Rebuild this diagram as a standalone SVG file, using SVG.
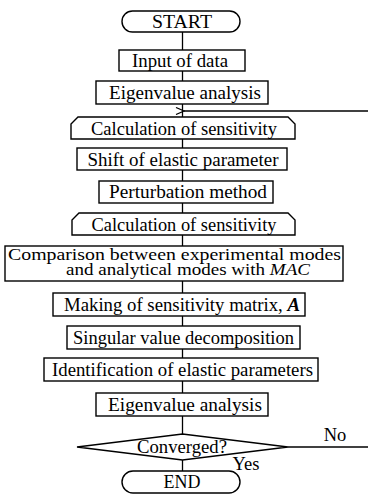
<svg xmlns="http://www.w3.org/2000/svg" width="368" height="495" viewBox="0 0 368 495">
<defs>
<marker id="ah" markerWidth="10" markerHeight="8" refX="1" refY="4" orient="auto" markerUnits="userSpaceOnUse">
<path d="M9,0.5 L1,4 L9,7.5" fill="none" stroke="#000" stroke-width="1.2"/>
</marker>
</defs>
<style>
.b{fill:#fff;stroke:#000;stroke-width:1.4}
.t{font-family:"Liberation Serif","Times New Roman",serif;font-size:18.5px;fill:#000;text-anchor:middle}
.s{font-size:17px}
.c{stroke:#000;stroke-width:1.3;fill:none}
</style>
<rect width="368" height="495" fill="#fff"/>
<g id="connectors">
<line class="c" x1="182.5" y1="32" x2="182.5" y2="50"/>
<line class="c" x1="182.5" y1="71" x2="182.5" y2="81"/>
<line class="c" x1="182.5" y1="104" x2="182.5" y2="117"/>
<line class="c" x1="368" y1="111" x2="184" y2="111" marker-end="url(#ah)"/>
<line class="c" x1="182.5" y1="139" x2="182.5" y2="148"/>
<line class="c" x1="182.5" y1="170" x2="182.5" y2="181"/>
<line class="c" x1="182.5" y1="203" x2="182.5" y2="213"/>
<line class="c" x1="182.5" y1="235" x2="182.5" y2="246"/>
<line class="c" x1="182.5" y1="281" x2="182.5" y2="293"/>
<line class="c" x1="182.5" y1="316" x2="182.5" y2="326"/>
<line class="c" x1="182.5" y1="349" x2="182.5" y2="358"/>
<line class="c" x1="182.5" y1="381" x2="182.5" y2="393"/>
<line class="c" x1="182.5" y1="416" x2="182.5" y2="434"/>
<line class="c" x1="182.5" y1="460" x2="182.5" y2="471"/>
<line class="c" x1="288" y1="447" x2="368" y2="447"/>
<text class="t" x="335" y="441">No</text>
<text class="t" x="246" y="470">Yes</text>
</g>
<g id="start">
<rect class="b" x="122" y="11" width="118" height="21" rx="10.5"/>
<text class="t" x="182" y="28" textLength="60" lengthAdjust="spacingAndGlyphs">START</text>
</g>
<g id="input">
<rect class="b" x="119" y="50" width="126" height="21"/>
<text class="t" x="180" y="67" textLength="96" lengthAdjust="spacingAndGlyphs">Input of data</text>
</g>
<g id="eigen1">
<rect class="b" x="96" y="81" width="172" height="23"/>
<text class="t" x="185" y="99" textLength="152" lengthAdjust="spacingAndGlyphs">Eigenvalue analysis</text>
</g>
<g id="calc1">
<path class="b" d="M71,139 L71,124 L78,117 L288,117 L295,124 L295,139 Z"/>
<text class="t" x="184" y="135" textLength="186" lengthAdjust="spacingAndGlyphs">Calculation of sensitivity</text>
</g>
<g id="shift">
<rect class="b" x="77" y="148" width="210" height="22"/>
<text class="t" x="183" y="166" textLength="191" lengthAdjust="spacingAndGlyphs">Shift of elastic parameter</text>
</g>
<g id="perturb">
<rect class="b" x="99" y="181" width="174" height="22"/>
<text class="t" x="188" y="198" textLength="158" lengthAdjust="spacingAndGlyphs">Perturbation method</text>
</g>
<g id="calc2">
<path class="b" d="M72,235 L72,220 L79,213 L288,213 L295,220 L295,235 Z"/>
<text class="t" x="184" y="231" textLength="185" lengthAdjust="spacingAndGlyphs">Calculation of sensitivity</text>
</g>
<g id="compare">
<rect class="b" x="5" y="246" width="338" height="35"/>
<text class="t s" x="174.5" y="259.5" textLength="333" lengthAdjust="spacingAndGlyphs">Comparison between experimental modes</text>
<text class="t s" x="188" y="274.5" textLength="244" lengthAdjust="spacingAndGlyphs">and analytical modes with <tspan font-style="italic">MAC</tspan></text>
</g>
<g id="making">
<rect class="b" x="53" y="293" width="252" height="23"/>
<text class="t" x="182" y="311" textLength="236" lengthAdjust="spacingAndGlyphs">Making of sensitivity matrix, <tspan font-style="italic" font-weight="bold">A</tspan></text>
</g>
<g id="svd">
<rect class="b" x="67" y="326" width="233" height="23"/>
<text class="t" x="183.5" y="344" textLength="221" lengthAdjust="spacingAndGlyphs">Singular value decomposition</text>
</g>
<g id="ident">
<rect class="b" x="44" y="358" width="274" height="23"/>
<text class="t" x="182.5" y="376" textLength="261" lengthAdjust="spacingAndGlyphs">Identification of elastic parameters</text>
</g>
<g id="eigen2">
<rect class="b" x="96" y="393" width="172" height="23"/>
<text class="t" x="185" y="411" textLength="154" lengthAdjust="spacingAndGlyphs">Eigenvalue analysis</text>
</g>
<g id="converged">
<polygon class="b" points="77,447 182.5,434 288,447 182.5,460"/>
<text class="t" x="182" y="453" textLength="90" lengthAdjust="spacingAndGlyphs">Converged?</text>
</g>
<g id="end">
<rect class="b" x="122" y="471" width="118" height="22" rx="11"/>
<text class="t" x="182" y="488" textLength="37" lengthAdjust="spacingAndGlyphs">END</text>
</g>
</svg>
